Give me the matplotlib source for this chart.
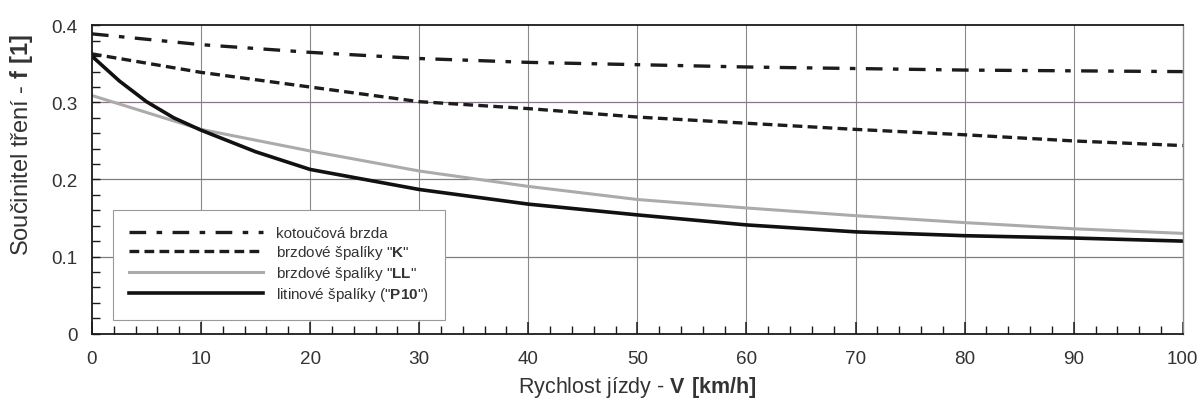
import matplotlib.pyplot as plt
from matplotlib.ticker import MultipleLocator

plt.rcParams["font.family"] = ["Liberation Sans", "DejaVu Sans"]
plt.rcParams["mathtext.fontset"] = "custom"
plt.rcParams["mathtext.rm"] = "Liberation Sans"
plt.rcParams["mathtext.bf"] = "Liberation Sans:bold"
plt.rcParams["lines.scale_dashes"] = False


# speeds [km/h]
speed = [0, 10, 20, 30, 40, 50, 60, 70, 80, 90, 100]
speed_p10 = [0, 2.5, 5, 7.5, 10, 15, 20, 30, 40, 50, 60, 70, 80, 90, 100]

# friction coefficient f [1]
f_disc = [0.389, 0.375, 0.365, 0.357, 0.352, 0.349, 0.346, 0.344, 0.342, 0.341, 0.340]
f_k = [0.363, 0.339, 0.320, 0.301, 0.292, 0.281, 0.273, 0.265, 0.258, 0.250, 0.244]
f_ll = [0.309, 0.265, 0.237, 0.211, 0.191, 0.174, 0.163, 0.153, 0.144, 0.136, 0.130]
f_p10 = [0.360, 0.328, 0.301, 0.280, 0.264, 0.236, 0.213, 0.187, 0.168,
         0.154, 0.141, 0.132, 0.127, 0.124, 0.120]

labels = [
    "kotoučová brzda",
    r'brzdové špalíky "$\mathbf{K}$"',
    r'brzdové špalíky "$\mathbf{LL}$"',
    r'litinové špalíky ("$\mathbf{P10}$")',
]

fig = plt.figure(figsize=(12.02, 4.06), dpi=100)
ax = fig.add_axes([0.0765, 0.176, 0.9075, 0.759])

ax.plot(speed, f_disc, color="#1c1c1c", lw=2.4,
        dashes=(12, 7.5, 4, 7.5), label=labels[0])
ax.plot(speed, f_k, color="#1c1c1c", lw=2.4,
        dashes=(7, 3.8), label=labels[1])
ax.plot(speed, f_ll, color="#ababab", lw=2.2, label=labels[2])
ax.plot(speed_p10, f_p10, color="#111111", lw=2.6, label=labels[3])

ax.set_xlim(0, 100)
ax.set_ylim(0, 0.4)

ax.xaxis.set_major_locator(MultipleLocator(10))
ax.xaxis.set_minor_locator(MultipleLocator(2))
ax.yaxis.set_minor_locator(MultipleLocator(0.02))
ax.set_yticks([0, 0.1, 0.2, 0.3, 0.4])
ax.set_yticklabels(["0", "0.1", "0.2", "0.3", "0.4"])

ax.tick_params(axis="x", which="major", direction="in", length=9, width=1.1,
               labelsize=13.6, pad=12, colors="#1a1a1a", labelcolor="#333333")
ax.tick_params(axis="x", which="minor", direction="in", length=5.5, width=1.0,
               colors="#1a1a1a")
ax.tick_params(axis="y", which="both", direction="in", length=5.5, width=1.0,
               labelsize=13.6, pad=10.5, colors="#1a1a1a", labelcolor="#333333")

# grid: vertical gray, horizontal tinted
for x in range(10, 100, 10):
    ax.axvline(x, color="#8a8a8a", lw=0.8, zorder=0)
for y in (0.1, 0.2, 0.3):
    ax.axhline(y, color="#8a7686", lw=0.9, zorder=0)

for side in ("left", "bottom", "top"):
    ax.spines[side].set_color("#1a1a1a")
    ax.spines[side].set_linewidth(1.3)
ax.spines["right"].set_color("#8a8a8a")
ax.spines["right"].set_linewidth(1.0)

ax.set_xlabel(r"Rychlost jízdy - $\mathbf{V\ [km/h]}$", fontsize=15.5,
              color="#333333", labelpad=5)
fig.text(22 / 1202, 1 - 145 / 406, r"Součinitel tření - $\mathbf{f\ [1]}$",
         rotation=90, ha="center", va="center", fontsize=17, color="#333333")

leg = ax.legend(loc="lower left", bbox_to_anchor=(0.019, 0.045),
                fontsize=11, handlelength=8.8, handletextpad=0.85,
                labelspacing=0.2, borderpad=1.06, borderaxespad=0,
                fancybox=False, framealpha=1, edgecolor="#9a9a9a")
leg.get_frame().set_linewidth(0.8)
for t in leg.get_texts():
    t.set_color("#333333")

fig.savefig("out.png", dpi=100, facecolor="white")
